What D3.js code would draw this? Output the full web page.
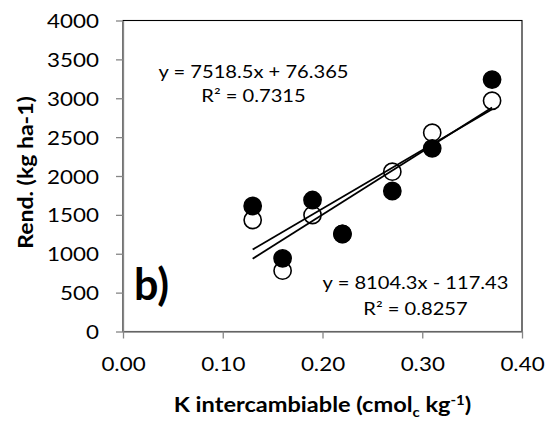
<!DOCTYPE html>
<html>
<head>
<meta charset="utf-8">
<script src="https://cdn.jsdelivr.net/npm/d3@7"></script>
<style>
  html, body { margin: 0; padding: 0; background: #fff; }
  svg { display: block; }
  text { font-family: Lato, "Open Sans", sans-serif; fill: #000; }
</style>
</head>
<body>
<script>
// Potassium content (cmol_c/kg) of each plot
const kValues = [0.13, 0.16, 0.19, 0.22, 0.27, 0.31, 0.37];
// Yield, filled markers
const yieldFilled = [1614, 941, 1691, 1254, 1807, 2356, 3240];
// Yield, open markers
const yieldOpen = [1434, 782, 1498, 1256, 2055, 2557, 2968];
// Linear fits: [slope, intercept, R²]
const fitFilled = [7518.5, 76.365, 0.7315];
const fitOpen = [8104.3, -117.43, 0.8257];
// Axis ticks
const xTicks = [0.00, 0.10, 0.20, 0.30, 0.40];
const yTicks = [0, 500, 1000, 1500, 2000, 2500, 3000, 3500, 4000];

const W = 548, H = 423;
const plot = { left: 123, right: 522, top: 20.5, bottom: 331.5 };
const axisGray = "#868686";

const svg = d3.select("body").append("svg")
  .attr("width", W).attr("height", H)
  .attr("viewBox", `0 0 ${W} ${H}`);

const x = d3.scaleLinear().domain([0, 0.40]).range([plot.left, plot.right]);
const y = d3.scaleLinear().domain([0, 4000]).range([plot.bottom, plot.top]);

// Horizontally widened text placed at (px, py)
function placeText(sel, px, py, k, rot) {
  sel.attr("x", 0).attr("y", 0)
     .attr("transform", `translate(${px},${py})${rot ? ` rotate(${rot})` : ""} scale(${k},1)`);
  return sel;
}

// Plot area frame (top and right edges visible)
svg.append("rect")
  .attr("x", plot.left).attr("y", plot.top)
  .attr("width", plot.right - plot.left).attr("height", plot.bottom - plot.top)
  .attr("fill", "none").attr("stroke", "#000").attr("stroke-width", 1.1);

// Axes
const tickK = 1.12;
const yAxis = svg.append("g")
  .attr("transform", `translate(${plot.left},0)`)
  .call(d3.axisLeft(y).tickValues(yTicks).tickSize(7).tickSizeOuter(0).tickFormat(d3.format("d")));
const xAxis = svg.append("g")
  .attr("transform", `translate(0,${plot.bottom})`)
  .call(d3.axisBottom(x).tickValues(xTicks).tickSize(7).tickSizeOuter(0).tickFormat(d3.format(".2f")));

[yAxis, xAxis].forEach(g => {
  g.select(".domain").attr("stroke", axisGray).attr("stroke-width", 1.3);
  g.selectAll(".tick line").attr("stroke", axisGray).attr("stroke-width", 1.3);
  g.selectAll(".tick text")
    .attr("font-family", "Lato, sans-serif").attr("font-size", 20).attr("fill", "#000");
});
yAxis.selectAll(".tick text")
  .attr("x", -24 / tickK).attr("dy", "0.35em")
  .attr("transform", `scale(${tickK},1)`);
xAxis.selectAll(".tick text")
  .attr("x", 0).attr("y", 39.5).attr("dy", 0)
  .attr("transform", `scale(${tickK},1)`);

// Markers: open first, filled on top
svg.append("g").selectAll("circle")
  .data(kValues.map((k, i) => [k, yieldOpen[i]]))
  .join("circle")
  .attr("cx", d => x(d[0])).attr("cy", d => y(d[1])).attr("r", 8.6)
  .attr("fill", "#fff").attr("stroke", "#000").attr("stroke-width", 1.6);
svg.append("g").selectAll("circle")
  .data(kValues.map((k, i) => [k, yieldFilled[i]]))
  .join("circle")
  .attr("cx", d => x(d[0])).attr("cy", d => y(d[1])).attr("r", 8.6)
  .attr("fill", "#000").attr("stroke", "#000").attr("stroke-width", 1.6);

// Trend lines over the sampled K range
const kExt = d3.extent(kValues);
const line = d3.line().x(d => x(d[0])).y(d => y(d[1]));
[fitFilled, fitOpen].forEach(f => {
  svg.append("path")
    .datum(kExt.map(k => [k, f[0] * k + f[1]]))
    .attr("d", line)
    .attr("fill", "none").attr("stroke", "#000").attr("stroke-width", 1.8);
});

// Fit equations
const fmtEq = f => `y = ${f[0]}x ${f[1] < 0 ? "-" : "+"} ${Math.abs(f[1])}`;
const eqK = 1.22, eqSize = 16.5;
function eqBlock(f, cx, y1, y2) {
  placeText(svg.append("text").attr("text-anchor", "middle").attr("font-size", eqSize)
    .text(fmtEq(f)), cx, y1, eqK);
  placeText(svg.append("text").attr("text-anchor", "middle").attr("font-size", eqSize)
    .text(`R² = ${f[2]}`), cx, y2, eqK);
}
eqBlock(fitFilled, 253.5, 78, 102);
eqBlock(fitOpen, 415.5, 288.5, 315);

// Panel letter
placeText(svg.append("text").attr("font-size", 43).attr("font-weight", 700).text("b)"),
  134, 300, 1.0);

// Axis titles
placeText(svg.append("text").attr("text-anchor", "middle").attr("font-size", 20)
  .attr("font-weight", 700).text("Rend. (kg ha-1)"), 32.5, 172.5, 1.15, -90);

const xt = placeText(svg.append("text").attr("text-anchor", "middle").attr("font-size", 20.5)
  .attr("font-weight", 700), 322.5, 412, 1.15);
xt.append("tspan").text("K intercambiable (cmol");
xt.append("tspan").attr("font-size", 13).attr("dy", 5).text("c");
xt.append("tspan").attr("dy", -5).text(" kg");
xt.append("tspan").attr("font-size", 13).attr("dy", -7).text("-1");
xt.append("tspan").attr("dy", 7).text(")");
</script>
</body>
</html>
